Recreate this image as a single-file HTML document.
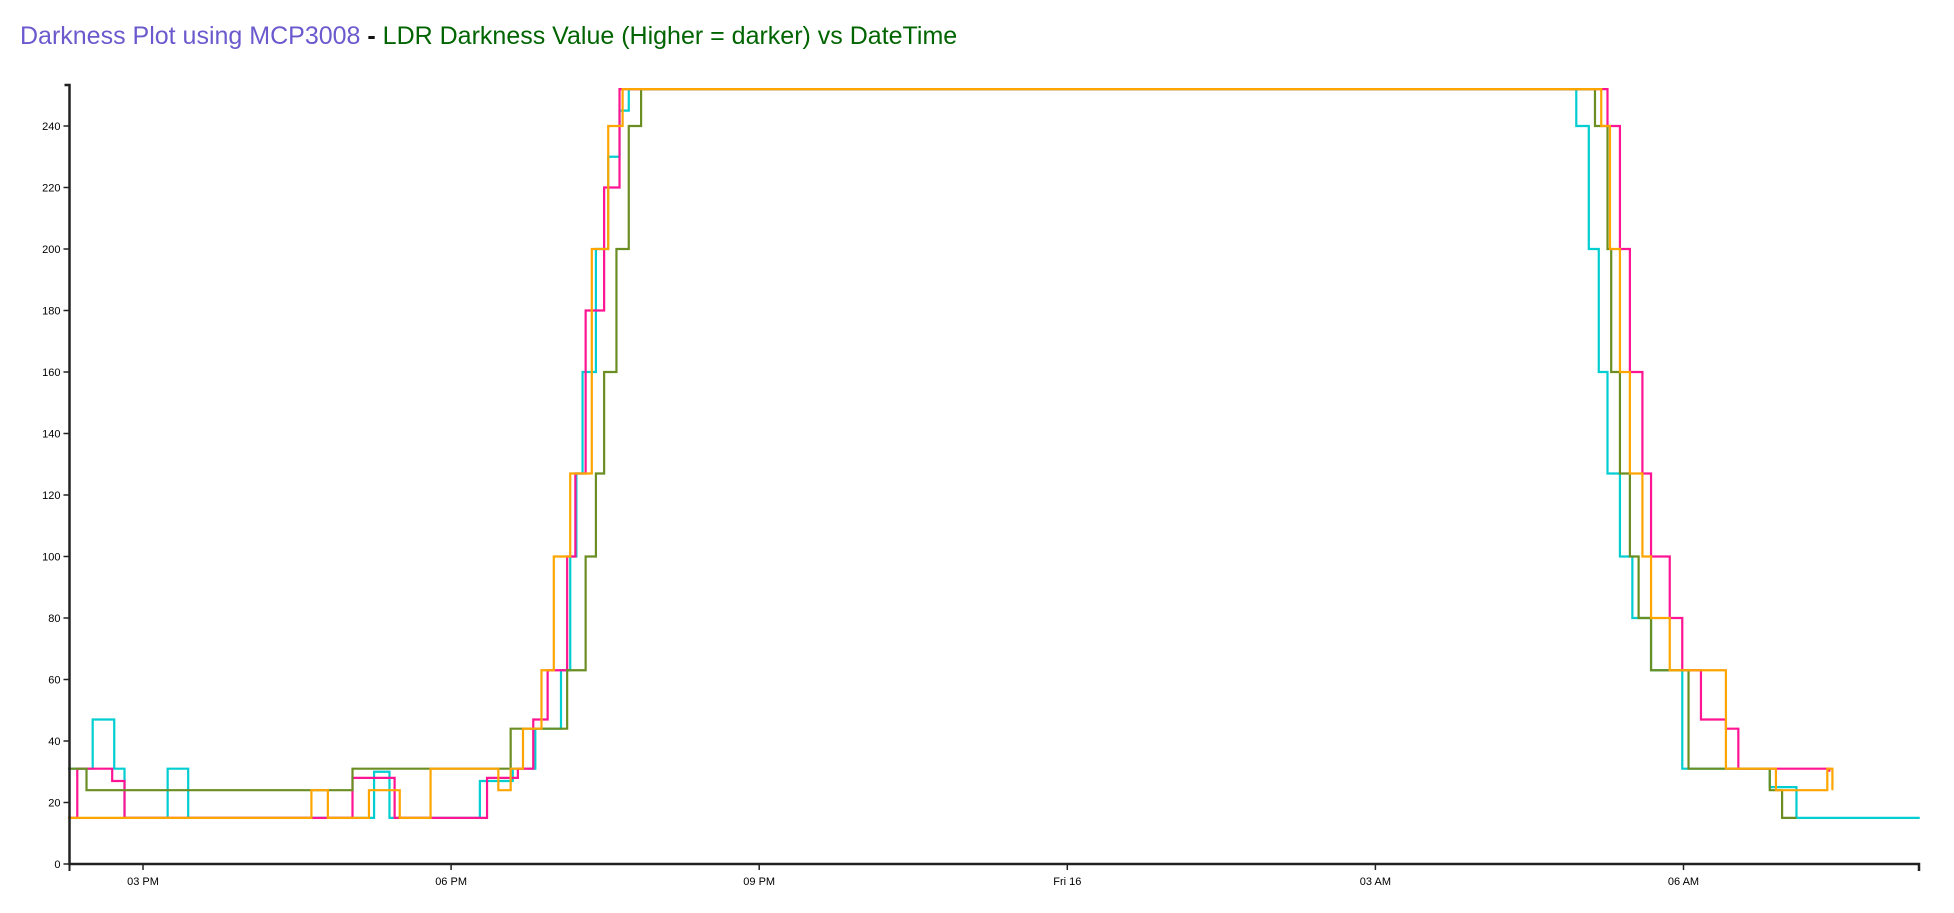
<!DOCTYPE html>
<html><head><meta charset="utf-8"><style>
body{margin:0;background:#fff;width:1954px;height:913px;overflow:hidden;font-family:"Liberation Sans",sans-serif}
#title{position:absolute;left:20px;top:22px;font-size:25px;white-space:nowrap}
</style></head><body>
<div id="title"><span style="color:#6a5acd">Darkness Plot using MCP3008</span><span style="color:#111;font-weight:bold"> - </span><span style="color:#006400">LDR Darkness Value (Higher = darker) vs DateTime</span></div>
<svg id="chart" width="1954" height="913" style="position:absolute;left:0;top:0"></svg>
<script>
const yTicks=[0,20,40,60,80,100,120,140,160,180,200,220,240];
const xTickHours=[15,18,21,24,27,30];
const xTickLabels=["03 PM","06 PM","09 PM","Fri 16","03 AM","06 AM"];
const seriesNames=["turquoise","pink","olive","orange"];
const seriesColors=["#00ced1","#ff1493","#6b8e23","#ffa500"];
const turqT=[14.27,14.51,14.72,14.82,15.24,15.44,17.25,17.4,18.28,18.6,18.82,19.07,19.16,19.22,19.28,19.41,19.53,19.64,19.73,28.835,28.956,29.078,29.175,29.26,29.381,29.502,29.684,29.988,30.84,31.1,32.3];
const turqV=[31,47,31,15,31,15,30,15,27,31,44,63,100,127,160,200,230,245,252,252,240,200,160,127,100,80,63,31,25,15,15];
const pinkT=[14.27,14.36,14.7,14.82,14.9,17.04,17.45,18.35,18.65,18.80,18.94,19.13,19.21,19.31,19.49,19.64,29.138,29.26,29.381,29.478,29.6,29.684,29.866,29.988,30.17,30.413,30.534,31.42];
const pinkV=[15,31,27,15,15,28,15,28,31,47,63,100,127,180,220,252,252,240,200,160,127,100,80,63,47,44,31,30];
const oliveT=[14.27,14.45,17.04,17.45,18.58,19.13,19.31,19.41,19.49,19.61,19.73,19.85,29.017,29.138,29.26,29.296,29.381,29.478,29.563,29.684,30.049,30.84,30.96,31.1];
const oliveV=[31,24,31,31,44,63,100,127,160,200,240,252,252,240,200,160,127,100,80,63,31,24,15,15];
const orangeT=[14.27,16.64,16.8,17.2,17.5,17.8,18.46,18.58,18.70,18.88,19.0,19.16,19.37,19.53,19.67,29.017,29.199,29.284,29.381,29.478,29.6,29.684,29.866,30.413,30.9,31.2,31.4,31.45];
const orangeV=[15,24,15,24,15,31,24,31,44,63,100,127,200,240,252,252,240,200,160,127,100,80,63,31,24,24,31,24];
const allT=[turqT,pinkT,oliveT,orangeT], allV=[turqV,pinkV,oliveV,orangeV];
const NS="http://www.w3.org/2000/svg", svg=document.getElementById('chart');
const X0=69.5,Y0=864,YTOP=85,XEND=1919;
function x(h){return 143+(h-15)*102.7;}
function y(v){return Y0-v*(Y0-126)/240;}
function mk(t,a){const e=document.createElementNS(NS,t);for(const k in a)e.setAttribute(k,a[k]);svg.appendChild(e);return e;}
allT.forEach((ts,i)=>{
  const vs=allV[i];let d="M"+x(ts[0])+","+y(vs[0]);
  for(let j=1;j<ts.length;j++){d+="H"+x(ts[j])+"V"+y(vs[j]);}
  const p=mk('path',{d:d,fill:'none',stroke:seriesColors[i],'stroke-width':2.2});
  
  
});
let ax=mk('path',{d:`M${X0-5},${YTOP}H${X0}V${Y0}H${XEND}V${Y0+7}`,fill:'none',stroke:'#222','stroke-width':2.5});


mk('line',{x1:X0,y1:Y0,x2:X0,y2:Y0+7,stroke:'#222','stroke-width':2});
yTicks.forEach(v=>{
  mk('line',{x1:X0-6,y1:y(v),x2:X0,y2:y(v),stroke:'#222','stroke-width':1.5});
  const t=mk('text',{x:X0-9,y:y(v)+4,'text-anchor':'end','font-size':11,fill:'#000','font-family':'Liberation Sans, sans-serif'});
  t.textContent=v;
  
  
});
xTickHours.forEach((h,i)=>{
  mk('line',{x1:x(h),y1:Y0,x2:x(h),y2:Y0+6,stroke:'#222','stroke-width':1.5});
  const t=mk('text',{x:x(h),y:Y0+21,'text-anchor':'middle','font-size':11,fill:'#000','font-family':'Liberation Sans, sans-serif'});
  t.textContent=xTickLabels[i];
  
  
});
</script>
</body></html>
